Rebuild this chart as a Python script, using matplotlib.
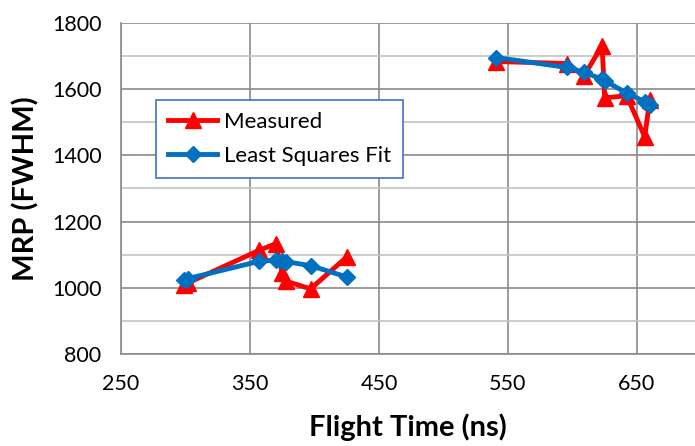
import numpy as np
import matplotlib.pyplot as plt
from matplotlib.ticker import MultipleLocator

plt.rcParams["font.family"] = ["Lato", "DejaVu Sans"]

# Flight time (ns), two groups of runs
time_low = [299, 302, 357, 370, 375, 378, 397, 425]
time_high = [541, 596, 609, 623, 625, 642, 656, 660]

# MRP (FWHM)
measured_low = [1008, 1015, 1113, 1133, 1045, 1020, 997, 1093]
measured_high = [1683, 1677, 1640, 1731, 1573, 1580, 1456, 1568]
fit_low = [1025, 1028, 1080, 1084, 1080, 1079, 1067, 1033]
fit_high = [1695, 1665, 1650, 1630, 1625, 1588, 1562, 1552]

x_ticks = [250, 350, 450, 550, 650]

red = "#FF0000"
blue = "#0070C0"

fig = plt.figure(figsize=(6.95, 4.46), dpi=100)
ax = fig.add_axes([0.174, 0.206, 0.826, 0.743])

kw_m = dict(color=red, lw=3.5, marker="^", markersize=11, zorder=3)
kw_f = dict(color=blue, lw=3.5, marker="D", markersize=8.5, zorder=4)
ax.plot(time_low, measured_low, label="Measured", **kw_m)
ax.plot(time_high, measured_high, **kw_m)
ax.plot(time_low, fit_low, label="Least Squares Fit", **kw_f)
ax.plot(time_high, fit_high, **kw_f)

ax.set_xlim(250, 695)
ax.set_ylim(800, 1800)
ax.set_xticks(x_ticks)
ax.yaxis.set_major_locator(MultipleLocator(200))
ax.yaxis.set_minor_locator(MultipleLocator(100))

ax.grid(True, which="major", color="#8a8a8a", lw=1.2)
ax.grid(True, which="minor", axis="y", color="#c4c4c4", lw=1.2)
ax.set_axisbelow(True)
ax.tick_params(which="both", length=0, labelsize=15.5, pad=14)
for s in ["top", "right"]:
    ax.spines[s].set_visible(False)
for s in ["left", "bottom"]:
    ax.spines[s].set_color("#8a8a8a")
    ax.spines[s].set_linewidth(1.2)

ax.set_xlabel("Flight Time (ns)", fontsize=21, fontweight="bold", labelpad=14)
ax.set_ylabel("MRP (FWHM)", fontsize=21, fontweight="bold", labelpad=9)

leg = ax.legend(loc="upper left", bbox_to_anchor=(156 / 695, 1 - 100 / 446),
                bbox_transform=fig.transFigure, borderaxespad=0, fontsize=16,
                fancybox=False, framealpha=1, edgecolor="#4472C4",
                handlelength=2.2, borderpad=0.55, labelspacing=0.6,
                handletextpad=0.3)
leg.get_frame().set_linewidth(1.2)

fig.savefig("out.png", dpi=100)
